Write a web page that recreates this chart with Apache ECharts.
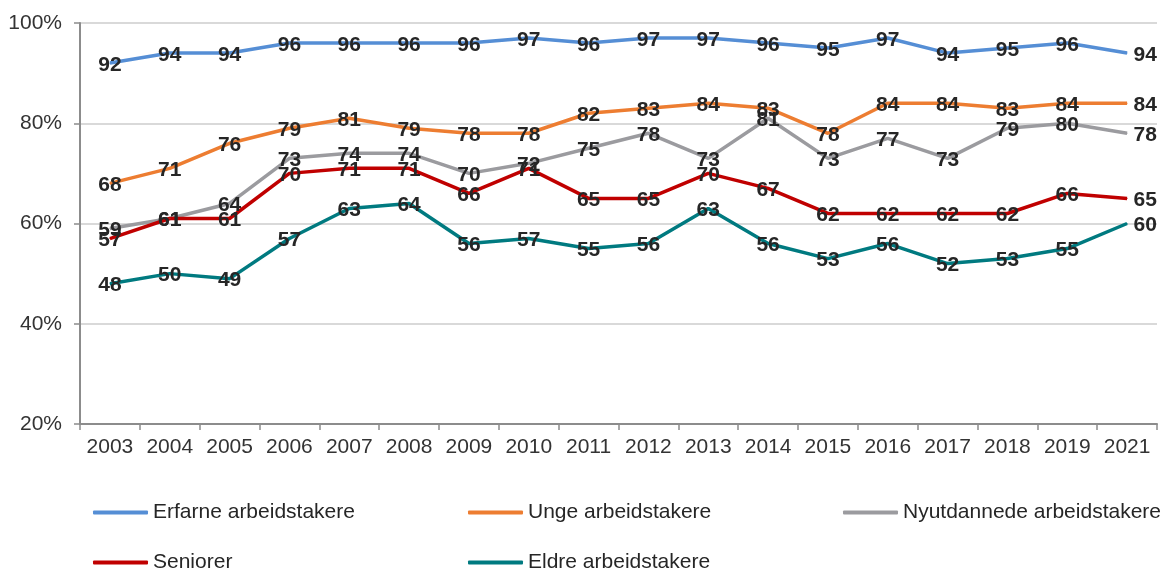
<!DOCTYPE html>
<html>
<head>
<meta charset="utf-8">
<script src="https://cdn.jsdelivr.net/npm/echarts@6/dist/echarts.min.js"></script>
<style>html,body{margin:0;padding:0;background:#fff;}#c{width:1163px;height:571px;}</style>
</head>
<body>
<div id="c"></div>
<script>
const years = ['2003','2004','2005','2006','2007','2008','2009','2010','2011','2012','2013','2014','2015','2016','2017','2018','2019','2021'];
const erfarne = [92,94,94,96,96,96,96,97,96,97,97,96,95,97,94,95,96,94];
const unge = [68,71,76,79,81,79,78,78,82,83,84,83,78,84,84,83,84,84];
const nyutdannede = [59,61,64,73,74,74,70,72,75,78,73,81,73,77,73,79,80,78];
const seniorer = [57,61,61,70,71,71,66,71,65,65,70,67,62,62,62,62,66,65];
const eldre = [48,50,49,57,63,64,56,57,55,56,63,56,53,56,52,53,55,60];
const yTicks = [20,40,60,80,100];

const seriesDefs = [
  {name:'Erfarne arbeidstakere', data: erfarne, color:'#558ED5'},
  {name:'Unge arbeidstakere', data: unge, color:'#ED7D31'},
  {name:'Nyutdannede arbeidstakere', data: nyutdannede, color:'#9B9B9F'},
  {name:'Seniorer', data: seniorer, color:'#C00000'},
  {name:'Eldre arbeidstakere', data: eldre, color:'#007A80'}
];

const FONT = '"Liberation Sans", Arial, sans-serif';

const series = seriesDefs.map(s => ({
  name: s.name,
  type: 'line',
  symbol: 'circle',
  symbolSize: 1,
  showSymbol: true,
  itemStyle: {color: s.color},
  lineStyle: {color: s.color, width: 3.5},
  label: {
    show: true,
    position: 'inside',
    offset: [0, 2],
    color: '#262626',
    fontFamily: FONT,
    fontWeight: 'bold',
    fontSize: 21
  },
  data: s.data.map((v, i) => i === s.data.length - 1
    ? {value: v, label: {position: 'right', distance: 6}}
    : v),
  animation: false
}));

const legendPos = [
  {left: 93, top: 502},
  {left: 468, top: 502},
  {left: 843, top: 502},
  {left: 93, top: 552},
  {left: 468, top: 552}
];
const legends = seriesDefs.map((s, i) => ({
  data: [s.name],
  left: legendPos[i].left,
  top: legendPos[i].top,
  orient: 'horizontal',
  icon: 'roundRect',
  itemWidth: 55,
  itemHeight: 4,
  itemGap: 5,
  padding: 0,
  selectedMode: false,
  textStyle: {fontFamily: FONT, fontSize: 21, color: '#262626', padding: [0,0,0,0]}
}));

const chart = echarts.init(document.getElementById('c'));
chart.setOption({
  backgroundColor: '#fff',
  animation: false,
  grid: {left: 80, right: 6, top: 23, bottom: 147, containLabel: false},
  legend: legends,
  xAxis: {
    type: 'category',
    data: years,
    boundaryGap: true,
    axisLine: {lineStyle: {color: '#8c8c8c', width: 2}},
    axisTick: {show: true, alignWithLabel: false, length: 6, lineStyle: {color: '#8c8c8c', width: 1.5}},
    axisLabel: {color: '#333', fontFamily: FONT, fontSize: 21, margin: 13, interval: 0}
  },
  yAxis: {
    type: 'value',
    min: yTicks[0],
    max: yTicks[yTicks.length - 1],
    interval: 20,
    axisLine: {show: true, lineStyle: {color: '#8c8c8c', width: 2}},
    axisTick: {show: true, length: 6, lineStyle: {color: '#8c8c8c', width: 1.5}},
    axisLabel: {color: '#333', fontFamily: FONT, fontSize: 21, margin: 18, formatter: v => v + '%'},
    splitLine: {show: true, lineStyle: {color: '#d9d9d9', width: 2}}
  },
  series: series
});
</script>
</body>
</html>
